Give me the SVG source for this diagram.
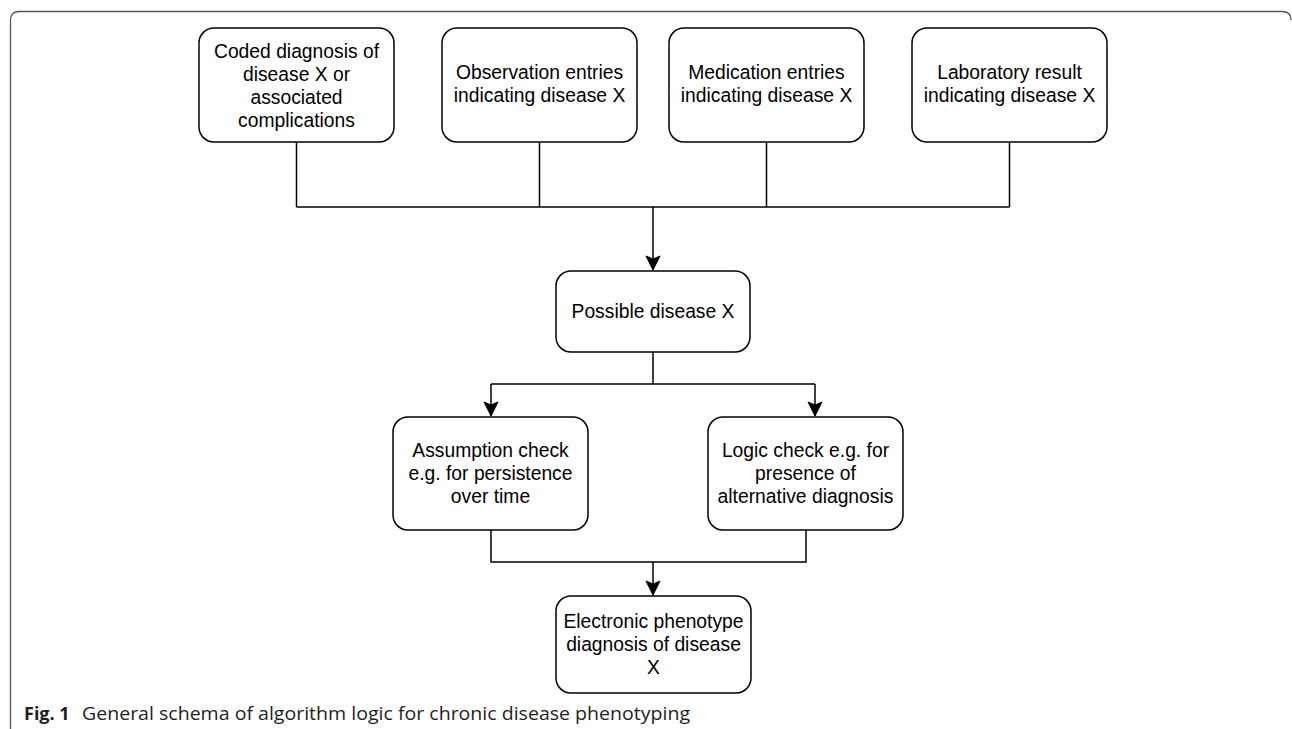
<svg xmlns="http://www.w3.org/2000/svg" width="1292" height="729" viewBox="0 0 1292 729">
<style>
.box{fill:#fff;stroke:#000;stroke-width:1.5}
.t{font-family:"Liberation Sans",Arial,sans-serif;font-size:19.3px;fill:#000;text-anchor:middle}
.c{fill:none;stroke:#000;stroke-width:1.5}
.frame{fill:none;stroke:#555;stroke-width:1.3}
.cap{font-family:"Open Sans","Noto Sans",sans-serif;font-size:18px;fill:#231f20}
</style>
<defs>
<marker id="ah" markerUnits="userSpaceOnUse" markerWidth="16" markerHeight="16" viewBox="-15 -8 16 16" refX="0" refY="0" orient="auto">
<path d="M-14,-7 L0,0 L-14,7 L-11,0 Z" fill="#000" stroke="#000" stroke-width="1"/>
</marker>
</defs>
<rect width="1292" height="729" fill="#fff"/>
<path class="frame" d="M10.5,729 V20 Q10.5,11.5 19,11.5 H1282 Q1291,11.5 1291,20"/>
<g id="connectors">
<path class="c" d="M296.5,142 V207 M539.5,142 V207 M766.5,142 V207 M1009.5,142 V207 M296.5,207 H1009.5"/>
<path class="c" d="M653,207 V270" marker-end="url(#ah)"/>
<path class="c" d="M653,352 V384 M491,384 H815"/>
<path class="c" d="M491,384 V416" marker-end="url(#ah)"/>
<path class="c" d="M815,384 V416" marker-end="url(#ah)"/>
<path class="c" d="M491,530 V562 H806 V530"/>
<path class="c" d="M653,562 V595" marker-end="url(#ah)"/>
</g>
<g id="n1"><rect class="box" x="199" y="28" width="195" height="114" rx="15"/>
<text class="t"><tspan x="296.5" y="57.5">Coded diagnosis of</tspan><tspan x="296.5" y="80.5">disease X or</tspan><tspan x="296.5" y="103.5">associated</tspan><tspan x="296.5" y="126.5">complications</tspan></text></g>
<g id="n2"><rect class="box" x="442" y="28" width="195" height="114" rx="15"/>
<text class="t"><tspan x="539.5" y="79">Observation entries</tspan><tspan x="539.5" y="102">indicating disease X</tspan></text></g>
<g id="n3"><rect class="box" x="669" y="28" width="195" height="114" rx="15"/>
<text class="t"><tspan x="766.5" y="79">Medication entries</tspan><tspan x="766.5" y="102">indicating disease X</tspan></text></g>
<g id="n4"><rect class="box" x="912" y="28" width="195" height="114" rx="15"/>
<text class="t"><tspan x="1009.5" y="79">Laboratory result</tspan><tspan x="1009.5" y="102">indicating disease X</tspan></text></g>
<g id="n5"><rect class="box" x="556" y="271" width="194" height="81" rx="15"/>
<text class="t" x="653" y="318">Possible disease X</text></g>
<g id="n6"><rect class="box" x="393" y="417" width="195" height="113" rx="15"/>
<text class="t"><tspan x="490.5" y="457">Assumption check</tspan><tspan x="490.5" y="480">e.g. for persistence</tspan><tspan x="490.5" y="503">over time</tspan></text></g>
<g id="n7"><rect class="box" x="708" y="417" width="195" height="113" rx="15"/>
<text class="t"><tspan x="805.5" y="457">Logic check e.g. for</tspan><tspan x="805.5" y="480">presence of</tspan><tspan x="805.5" y="503">alternative diagnosis</tspan></text></g>
<g id="n8"><rect class="box" x="556" y="596" width="195" height="97" rx="15"/>
<text class="t"><tspan x="653.5" y="628">Electronic phenotype</tspan><tspan x="653.5" y="651">diagnosis of disease</tspan><tspan x="653.5" y="674">X</tspan></text></g>
<text class="cap" x="24" y="720"><tspan font-weight="bold">Fig. 1</tspan><tspan x="82" textLength="608" lengthAdjust="spacingAndGlyphs">General schema of algorithm logic for chronic disease phenotyping</tspan></text>
</svg>
